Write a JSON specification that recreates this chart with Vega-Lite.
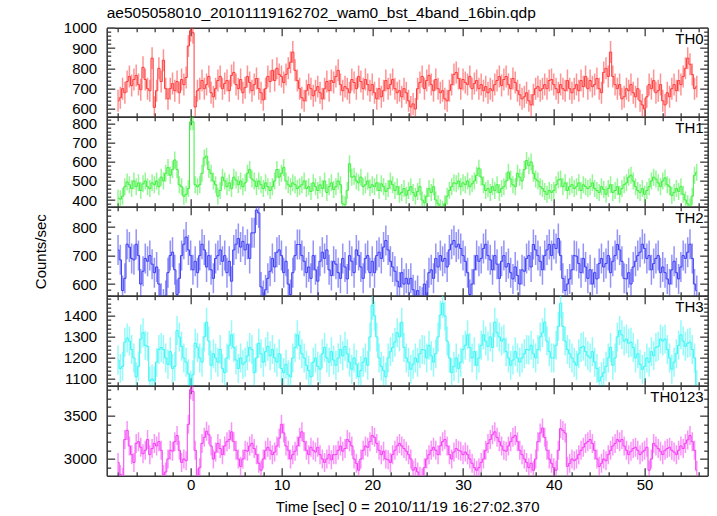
{
"$schema": "https://vega.github.io/schema/vega-lite/v6.json",
"padding": {"left": 32.7, "top": 5.7, "right": 2, "bottom": 2},
"background": "white",
"config": {
  "view": {"stroke": null},
  "font": "Liberation Sans",
  "axis": {"domainColor": "#333333", "domainWidth": 1.5, "tickColor": "#555555", "tickWidth": 1.5, "labelFont": "Liberation Sans", "labelFontSize": 15, "labelColor": "#000000", "titleFont": "Liberation Sans", "titleFontSize": 15, "titleFontWeight": "normal", "titleColor": "#000000", "grid": false, "labelOverlap": false, "labelFlush": false}
},
"data": {"values": [
{"t":-8,"a":640,"b":410,"c":720,"d":1190,"e":2960},
{"t":-7.75,"a":655,"b":405,"c":685,"d":1150,"e":2820},
{"t":-7.5,"a":700,"b":420,"c":577,"d":1160,"e":2790},
{"t":-7.25,"a":680,"b":470,"c":620,"d":1275,"e":3224},
{"t":-7,"a":735,"b":495,"c":740,"d":1295,"e":3330},
{"t":-6.75,"a":760,"b":480,"c":730,"d":1280,"e":3150},
{"t":-6.5,"a":715,"b":460,"c":690,"d":1240,"e":3050},
{"t":-6.25,"a":745,"b":500,"c":685,"d":1200,"e":2960},
{"t":-6,"a":765,"b":470,"c":740,"d":1110,"e":3180},
{"t":-5.75,"a":720,"b":490,"c":700,"d":1160,"e":3200},
{"t":-5.5,"a":695,"b":450,"c":600,"d":1290,"e":3135},
{"t":-5.25,"a":805,"b":485,"c":645,"d":1320,"e":3060},
{"t":-5,"a":745,"b":500,"c":690,"d":1260,"e":3100},
{"t":-4.75,"a":700,"b":470,"c":680,"d":1255,"e":3224},
{"t":-4.5,"a":690,"b":460,"c":700,"d":1090,"e":3050},
{"t":-4.25,"a":850,"b":490,"c":670,"d":1100,"e":3120},
{"t":-4,"a":608,"b":480,"c":640,"d":1090,"e":3180},
{"t":-3.75,"a":690,"b":500,"c":660,"d":1180,"e":3150},
{"t":-3.5,"a":800,"b":470,"c":600,"d":1240,"e":3200},
{"t":-3.25,"a":735,"b":520,"c":550,"d":1250,"e":3100},
{"t":-3,"a":840,"b":500,"c":530,"d":1240,"e":2820},
{"t":-2.75,"a":700,"b":540,"c":560,"d":1200,"e":2850},
{"t":-2.5,"a":650,"b":570,"c":640,"d":1170,"e":3000},
{"t":-2.25,"a":700,"b":530,"c":700,"d":1230,"e":3100},
{"t":-2,"a":725,"b":560,"c":712,"d":1150,"e":3090},
{"t":-1.75,"a":690,"b":610,"c":650,"d":1160,"e":3200},
{"t":-1.5,"a":735,"b":560,"c":563,"d":1330,"e":3270},
{"t":-1.25,"a":680,"b":480,"c":620,"d":1300,"e":3100},
{"t":-1,"a":745,"b":470,"c":700,"d":1255,"e":2960},
{"t":-0.75,"a":720,"b":420,"c":740,"d":1200,"e":3000},
{"t":-0.5,"a":755,"b":430,"c":765,"d":1180,"e":2980},
{"t":-0.25,"a":910,"b":460,"c":720,"d":1125,"e":3400},
{"t":0,"a":985,"b":810,"c":700,"d":1070,"e":3800},
{"t":0.25,"a":975,"b":810,"c":650,"d":1120,"e":3780},
{"t":0.5,"a":610,"b":480,"c":680,"d":1270,"e":3100},
{"t":0.75,"a":690,"b":470,"c":640,"d":1250,"e":2780},
{"t":1,"a":700,"b":480,"c":700,"d":1200,"e":2900},
{"t":1.25,"a":740,"b":540,"c":740,"d":1180,"e":3180},
{"t":1.5,"a":700,"b":620,"c":720,"d":1300,"e":3250},
{"t":1.75,"a":720,"b":630,"c":660,"d":1370,"e":3320},
{"t":2,"a":760,"b":560,"c":700,"d":1280,"e":3280},
{"t":2.25,"a":680,"b":540,"c":650,"d":1165,"e":3150},
{"t":2.5,"a":660,"b":500,"c":620,"d":1220,"e":3000},
{"t":2.75,"a":700,"b":480,"c":690,"d":1200,"e":3080},
{"t":3,"a":740,"b":420,"c":700,"d":1180,"e":3180},
{"t":3.25,"a":760,"b":450,"c":720,"d":1240,"e":3120},
{"t":3.5,"a":700,"b":520,"c":680,"d":1150,"e":3050},
{"t":3.75,"a":725,"b":500,"c":700,"d":1130,"e":3150},
{"t":4,"a":740,"b":470,"c":640,"d":1200,"e":3200},
{"t":4.25,"a":690,"b":490,"c":680,"d":1260,"e":3224},
{"t":4.5,"a":765,"b":460,"c":610,"d":1310,"e":3313},
{"t":4.75,"a":780,"b":520,"c":720,"d":1250,"e":3200},
{"t":5,"a":720,"b":505,"c":740,"d":1190,"e":3100},
{"t":5.25,"a":700,"b":480,"c":760,"d":1150,"e":3000},
{"t":5.5,"a":745,"b":500,"c":730,"d":1200,"e":2915},
{"t":5.75,"a":680,"b":470,"c":750,"d":1170,"e":3000},
{"t":6,"a":705,"b":490,"c":720,"d":1180,"e":3100},
{"t":6.25,"a":760,"b":540,"c":740,"d":1210,"e":3090},
{"t":6.5,"a":730,"b":560,"c":690,"d":1250,"e":3150},
{"t":6.75,"a":690,"b":510,"c":780,"d":1240,"e":3180},
{"t":7,"a":720,"b":500,"c":780,"d":1130,"e":3120},
{"t":7.25,"a":750,"b":470,"c":860,"d":1200,"e":3050},
{"t":7.5,"a":700,"b":500,"c":850,"d":1270,"e":2950},
{"t":7.75,"a":680,"b":480,"c":590,"d":1220,"e":2870},
{"t":8,"a":645,"b":460,"c":560,"d":1180,"e":3000},
{"t":8.25,"a":700,"b":490,"c":580,"d":1230,"e":3100},
{"t":8.5,"a":760,"b":470,"c":620,"d":1255,"e":3135},
{"t":8.75,"a":735,"b":450,"c":645,"d":1210,"e":3100},
{"t":9,"a":790,"b":470,"c":690,"d":1240,"e":3050},
{"t":9.25,"a":740,"b":500,"c":660,"d":1200,"e":3080},
{"t":9.5,"a":800,"b":560,"c":712,"d":1180,"e":3150},
{"t":9.75,"a":770,"b":520,"c":720,"d":1220,"e":3240},
{"t":10,"a":760,"b":540,"c":700,"d":1150,"e":3400},
{"t":10.25,"a":730,"b":570,"c":640,"d":1130,"e":3300},
{"t":10.5,"a":770,"b":500,"c":680,"d":1170,"e":3150},
{"t":10.75,"a":800,"b":480,"c":600,"d":1120,"e":3100},
{"t":11,"a":830,"b":470,"c":563,"d":1110,"e":3000},
{"t":11.25,"a":880,"b":490,"c":640,"d":1200,"e":3050},
{"t":11.5,"a":790,"b":480,"c":700,"d":1250,"e":3090},
{"t":11.75,"a":740,"b":460,"c":739,"d":1310,"e":3150},
{"t":12,"a":700,"b":470,"c":739,"d":1260,"e":3250},
{"t":12.25,"a":655,"b":480,"c":700,"d":1220,"e":3313},
{"t":12.5,"a":640,"b":500,"c":680,"d":1200,"e":3200},
{"t":12.75,"a":690,"b":460,"c":640,"d":1165,"e":3100},
{"t":13,"a":720,"b":470,"c":660,"d":1140,"e":3050},
{"t":13.25,"a":700,"b":445,"c":620,"d":1110,"e":3135},
{"t":13.5,"a":665,"b":490,"c":700,"d":1180,"e":3100},
{"t":13.75,"a":690,"b":470,"c":650,"d":1200,"e":3080},
{"t":14,"a":710,"b":450,"c":610,"d":1160,"e":3135},
{"t":14.25,"a":680,"b":480,"c":680,"d":1146,"e":3050},
{"t":14.5,"a":650,"b":460,"c":712,"d":1220,"e":3000},
{"t":14.75,"a":700,"b":500,"c":690,"d":1250,"e":2960},
{"t":15,"a":735,"b":440,"c":720,"d":1200,"e":3000},
{"t":15.25,"a":690,"b":470,"c":650,"d":1180,"e":3050},
{"t":15.5,"a":740,"b":490,"c":630,"d":1230,"e":2990},
{"t":15.75,"a":730,"b":455,"c":680,"d":1190,"e":3050},
{"t":16,"a":760,"b":470,"c":670,"d":1165,"e":3050},
{"t":16.25,"a":790,"b":500,"c":640,"d":1200,"e":3100},
{"t":16.5,"a":720,"b":480,"c":620,"d":1240,"e":3150},
{"t":16.75,"a":690,"b":380,"c":690,"d":1210,"e":3090},
{"t":17,"a":710,"b":375,"c":660,"d":1255,"e":3120},
{"t":17.25,"a":700,"b":450,"c":618,"d":1220,"e":3224},
{"t":17.5,"a":680,"b":590,"c":700,"d":1180,"e":3200},
{"t":17.75,"a":745,"b":520,"c":680,"d":1146,"e":3150},
{"t":18,"a":730,"b":525,"c":640,"d":1200,"e":3000},
{"t":18.25,"a":700,"b":500,"c":720,"d":1170,"e":2950},
{"t":18.5,"a":760,"b":490,"c":700,"d":1110,"e":2870},
{"t":18.75,"a":735,"b":520,"c":660,"d":1140,"e":3000},
{"t":19,"a":700,"b":470,"c":620,"d":1180,"e":3100},
{"t":19.25,"a":745,"b":480,"c":690,"d":1200,"e":3150},
{"t":19.5,"a":720,"b":500,"c":700,"d":1165,"e":3135},
{"t":19.75,"a":690,"b":465,"c":640,"d":1300,"e":3200},
{"t":20,"a":720,"b":480,"c":680,"d":1450,"e":3270},
{"t":20.25,"a":680,"b":470,"c":640,"d":1400,"e":3250},
{"t":20.5,"a":650,"b":490,"c":700,"d":1300,"e":3180},
{"t":20.75,"a":700,"b":450,"c":712,"d":1200,"e":3100},
{"t":21,"a":660,"b":485,"c":690,"d":1160,"e":3050},
{"t":21.25,"a":690,"b":470,"c":730,"d":1140,"e":3090},
{"t":21.5,"a":740,"b":445,"c":753,"d":1110,"e":3000},
{"t":21.75,"a":700,"b":460,"c":720,"d":1200,"e":2990},
{"t":22,"a":720,"b":500,"c":680,"d":1230,"e":2960},
{"t":22.25,"a":745,"b":480,"c":660,"d":1250,"e":3050},
{"t":22.5,"a":700,"b":450,"c":645,"d":1275,"e":3100},
{"t":22.75,"a":680,"b":470,"c":610,"d":1320,"e":3150},
{"t":23,"a":690,"b":430,"c":590,"d":1300,"e":3180},
{"t":23.25,"a":660,"b":440,"c":640,"d":1370,"e":3150},
{"t":23.5,"a":700,"b":460,"c":600,"d":1250,"e":3120},
{"t":23.75,"a":680,"b":425,"c":620,"d":1200,"e":3090},
{"t":24,"a":640,"b":450,"c":600,"d":1180,"e":3050},
{"t":24.25,"a":610,"b":470,"c":620,"d":1146,"e":3000},
{"t":24.5,"a":625,"b":440,"c":580,"d":1170,"e":2870},
{"t":24.75,"a":600,"b":420,"c":560,"d":1200,"e":2900},
{"t":25,"a":700,"b":445,"c":577,"d":1180,"e":2850},
{"t":25.25,"a":730,"b":470,"c":540,"d":1220,"e":2800},
{"t":25.5,"a":760,"b":400,"c":536,"d":1240,"e":2780},
{"t":25.75,"a":700,"b":385,"c":600,"d":1238,"e":2900},
{"t":26,"a":740,"b":420,"c":560,"d":1200,"e":3000},
{"t":26.25,"a":765,"b":460,"c":640,"d":1260,"e":3050},
{"t":26.5,"a":720,"b":440,"c":650,"d":1210,"e":3100},
{"t":26.75,"a":690,"b":470,"c":620,"d":1180,"e":3135},
{"t":27,"a":745,"b":400,"c":690,"d":1220,"e":3100},
{"t":27.25,"a":700,"b":380,"c":660,"d":1300,"e":3050},
{"t":27.5,"a":680,"b":360,"c":700,"d":1404,"e":3150},
{"t":27.75,"a":690,"b":350,"c":680,"d":1460,"e":3200},
{"t":28,"a":650,"b":380,"c":690,"d":1400,"e":3224},
{"t":28.25,"a":640,"b":420,"c":660,"d":1280,"e":3150},
{"t":28.5,"a":690,"b":450,"c":720,"d":1200,"e":3050},
{"t":28.75,"a":720,"b":470,"c":740,"d":1130,"e":3000},
{"t":29,"a":770,"b":490,"c":753,"d":1160,"e":3080},
{"t":29.25,"a":780,"b":485,"c":730,"d":1200,"e":3120},
{"t":29.5,"a":750,"b":500,"c":740,"d":1150,"e":3100},
{"t":29.75,"a":700,"b":470,"c":725,"d":1180,"e":3090},
{"t":30,"a":745,"b":490,"c":700,"d":1240,"e":3050},
{"t":30.25,"a":730,"b":480,"c":680,"d":1260,"e":3080},
{"t":30.5,"a":720,"b":500,"c":640,"d":1310,"e":3050},
{"t":30.75,"a":760,"b":470,"c":563,"d":1250,"e":3000},
{"t":31,"a":700,"b":485,"c":600,"d":1200,"e":2950},
{"t":31.25,"a":725,"b":500,"c":650,"d":1230,"e":2900},
{"t":31.5,"a":740,"b":530,"c":700,"d":1165,"e":2870},
{"t":31.75,"a":700,"b":567,"c":680,"d":1200,"e":2900},
{"t":32,"a":720,"b":520,"c":690,"d":1260,"e":2960},
{"t":32.25,"a":690,"b":480,"c":725,"d":1310,"e":3000},
{"t":32.5,"a":710,"b":450,"c":740,"d":1280,"e":3100},
{"t":32.75,"a":680,"b":460,"c":700,"d":1255,"e":3180},
{"t":33,"a":700,"b":440,"c":685,"d":1300,"e":3224},
{"t":33.25,"a":690,"b":470,"c":650,"d":1250,"e":3280},
{"t":33.5,"a":720,"b":450,"c":700,"d":1370,"e":3313},
{"t":33.75,"a":740,"b":480,"c":670,"d":1320,"e":3250},
{"t":34,"a":760,"b":440,"c":620,"d":1300,"e":3200},
{"t":34.25,"a":715,"b":460,"c":680,"d":1280,"e":3150},
{"t":34.5,"a":745,"b":470,"c":700,"d":1290,"e":3100},
{"t":34.75,"a":760,"b":500,"c":660,"d":1230,"e":3090},
{"t":35,"a":720,"b":546,"c":672,"d":1200,"e":3150},
{"t":35.25,"a":700,"b":510,"c":640,"d":1165,"e":3200},
{"t":35.5,"a":750,"b":480,"c":618,"d":1190,"e":3250},
{"t":35.75,"a":730,"b":470,"c":660,"d":1230,"e":3270},
{"t":36,"a":690,"b":540,"c":630,"d":1200,"e":3200},
{"t":36.25,"a":670,"b":520,"c":600,"d":1180,"e":3100},
{"t":36.5,"a":650,"b":500,"c":650,"d":1200,"e":3050},
{"t":36.75,"a":660,"b":560,"c":645,"d":1220,"e":3000},
{"t":37,"a":680,"b":607,"c":690,"d":1240,"e":2960},
{"t":37.25,"a":640,"b":580,"c":700,"d":1238,"e":2900},
{"t":37.5,"a":620,"b":600,"c":660,"d":1260,"e":2950},
{"t":37.75,"a":670,"b":540,"c":739,"d":1220,"e":2870},
{"t":38,"a":700,"b":510,"c":720,"d":1200,"e":3000},
{"t":38.25,"a":710,"b":500,"c":700,"d":1240,"e":3200},
{"t":38.5,"a":690,"b":470,"c":680,"d":1300,"e":3300},
{"t":38.75,"a":700,"b":460,"c":650,"d":1320,"e":3357},
{"t":39,"a":720,"b":445,"c":700,"d":1370,"e":3250},
{"t":39.25,"a":700,"b":430,"c":720,"d":1280,"e":3100},
{"t":39.5,"a":740,"b":450,"c":739,"d":1230,"e":3000},
{"t":39.75,"a":745,"b":440,"c":700,"d":1200,"e":2950},
{"t":40,"a":720,"b":450,"c":740,"d":1200,"e":2900},
{"t":40.25,"a":700,"b":480,"c":725,"d":1260,"e":2870},
{"t":40.5,"a":680,"b":505,"c":760,"d":1350,"e":3100},
{"t":40.75,"a":720,"b":510,"c":700,"d":1460,"e":3350},
{"t":41,"a":700,"b":470,"c":620,"d":1350,"e":3330},
{"t":41.25,"a":690,"b":490,"c":577,"d":1280,"e":3300},
{"t":41.5,"a":740,"b":450,"c":600,"d":1240,"e":2915},
{"t":41.75,"a":700,"b":470,"c":618,"d":1220,"e":2950},
{"t":42,"a":680,"b":480,"c":650,"d":1200,"e":3000},
{"t":42.25,"a":700,"b":460,"c":700,"d":1180,"e":2980},
{"t":42.5,"a":720,"b":470,"c":698,"d":1165,"e":3000},
{"t":42.75,"a":690,"b":490,"c":672,"d":1220,"e":3050},
{"t":43,"a":740,"b":450,"c":640,"d":1250,"e":3100},
{"t":43.25,"a":710,"b":480,"c":690,"d":1255,"e":3135},
{"t":43.5,"a":760,"b":470,"c":660,"d":1230,"e":3180},
{"t":43.75,"a":700,"b":460,"c":620,"d":1210,"e":3200},
{"t":44,"a":740,"b":470,"c":650,"d":1200,"e":3224},
{"t":44.25,"a":710,"b":490,"c":600,"d":1230,"e":3180},
{"t":44.5,"a":720,"b":460,"c":640,"d":1180,"e":3100},
{"t":44.75,"a":750,"b":450,"c":618,"d":1150,"e":3000},
{"t":45,"a":700,"b":440,"c":672,"d":1090,"e":2915},
{"t":45.25,"a":680,"b":470,"c":690,"d":1110,"e":2950},
{"t":45.5,"a":780,"b":455,"c":660,"d":1130,"e":3000},
{"t":45.75,"a":800,"b":430,"c":672,"d":1160,"e":2980},
{"t":46,"a":760,"b":460,"c":700,"d":1200,"e":3050},
{"t":46.25,"a":880,"b":480,"c":640,"d":1250,"e":3100},
{"t":46.5,"a":760,"b":440,"c":680,"d":1165,"e":3150},
{"t":46.75,"a":720,"b":450,"c":700,"d":1200,"e":3180},
{"t":47,"a":700,"b":470,"c":739,"d":1300,"e":3224},
{"t":47.25,"a":720,"b":430,"c":720,"d":1330,"e":3200},
{"t":47.5,"a":650,"b":460,"c":680,"d":1310,"e":3224},
{"t":47.75,"a":660,"b":480,"c":620,"d":1280,"e":3150},
{"t":48,"a":700,"b":490,"c":618,"d":1290,"e":3100},
{"t":48.25,"a":690,"b":520,"c":640,"d":1270,"e":3050},
{"t":48.5,"a":720,"b":530,"c":600,"d":1275,"e":3090},
{"t":48.75,"a":680,"b":500,"c":660,"d":1250,"e":3120},
{"t":49,"a":660,"b":470,"c":680,"d":1200,"e":3135},
{"t":49.25,"a":700,"b":450,"c":700,"d":1220,"e":3100},
{"t":49.5,"a":640,"b":440,"c":712,"d":1170,"e":3050},
{"t":49.75,"a":620,"b":460,"c":740,"d":1146,"e":3080},
{"t":50,"a":600,"b":430,"c":725,"d":1160,"e":3100},
{"t":50.25,"a":660,"b":450,"c":690,"d":1200,"e":3135},
{"t":50.5,"a":720,"b":470,"c":700,"d":1180,"e":2870},
{"t":50.75,"a":700,"b":500,"c":650,"d":1230,"e":3000},
{"t":51,"a":740,"b":520,"c":672,"d":1210,"e":3180},
{"t":51.25,"a":680,"b":510,"c":690,"d":1250,"e":3150},
{"t":51.5,"a":690,"b":490,"c":700,"d":1255,"e":3120},
{"t":51.75,"a":720,"b":470,"c":640,"d":1290,"e":3090},
{"t":52,"a":640,"b":500,"c":660,"d":1280,"e":3050},
{"t":52.25,"a":620,"b":516,"c":640,"d":1290,"e":3100},
{"t":52.5,"a":680,"b":480,"c":618,"d":1240,"e":3120},
{"t":52.75,"a":660,"b":470,"c":600,"d":1200,"e":3135},
{"t":53,"a":700,"b":424,"c":650,"d":1146,"e":3100},
{"t":53.25,"a":720,"b":440,"c":680,"d":1180,"e":3080},
{"t":53.5,"a":690,"b":460,"c":640,"d":1220,"e":3050},
{"t":53.75,"a":740,"b":445,"c":618,"d":1260,"e":3100},
{"t":54,"a":720,"b":470,"c":660,"d":1310,"e":3150},
{"t":54.25,"a":760,"b":430,"c":700,"d":1280,"e":3120},
{"t":54.5,"a":800,"b":400,"c":690,"d":1255,"e":3180},
{"t":54.75,"a":850,"b":380,"c":712,"d":1270,"e":3220},
{"t":55,"a":820,"b":363,"c":740,"d":1275,"e":3270},
{"t":55.25,"a":770,"b":420,"c":690,"d":1240,"e":3200},
{"t":55.5,"a":700,"b":530,"c":600,"d":1200,"e":3100},
{"t":55.75,"a":710,"b":546,"c":577,"d":1072,"e":2870}
]},
"spacing": 0,
"bounds": "flush",
"vconcat": [
{
  "width": 601, "height": 89,
  "title": {"text": "ae505058010_20101119162702_wam0_bst_4band_16bin.qdp", "anchor": "start", "frame": "group", "font": "Liberation Sans", "fontSize": 15.5, "fontWeight": "normal", "color": "#000000", "offset": -1},
  "layer": [
    {"mark": {"type": "tick", "orient": "vertical", "size": 22, "thickness": 1.5, "color": "#ff3a3a", "opacity": 0.55, "clip": true},
     "encoding": {
       "x": {"field": "t", "type": "quantitative", "scale": {"domain": [-9.25, 56.95], "nice": false, "zero": false},
             "axis": {"orient": "bottom", "values": [-8,-6,-4,-2,0,2,4,6,8,10,12,14,16,18,20,22,24,26,28,30,32,34,36,38,40,42,44,46,48,50,52,54,56], "tickSize": {"condition": {"test": "datum.value % 10 === 0", "value": -8}, "value": -4}, "labels": false, "title": null}},
       "y": {"field": "a", "type": "quantitative", "scale": {"domain": [562, 1000], "nice": false, "zero": false},
             "axis": {"orient": "left", "values": [580,600,620,640,660,680,700,720,740,760,780,800,820,840,860,880,900,920,940,960,980,1000], "tickSize": {"condition": {"test": "datum.value % 100 === 0", "value": -8}, "value": -4}, "format": "d", "labelExpr": "datum.value % 100 === 0 ? datum.label : ''", "labelPadding": 18, "title": null}}
     }},
    {"mark": {"type": "line", "interpolate": "step", "color": "#ff3a3a", "strokeWidth": 1, "clip": true},
     "encoding": {
       "x": {"field": "t", "type": "quantitative", "axis": {"orient": "top", "values": [-8,-6,-4,-2,0,2,4,6,8,10,12,14,16,18,20,22,24,26,28,30,32,34,36,38,40,42,44,46,48,50,52,54,56], "tickSize": {"condition": {"test": "datum.value % 10 === 0", "value": -8}, "value": -4}, "labels": false, "title": null}},
       "y": {"field": "a", "type": "quantitative", "axis": {"orient": "right", "values": [580,600,620,640,660,680,700,720,740,760,780,800,820,840,860,880,900,920,940,960,980,1000], "tickSize": {"condition": {"test": "datum.value % 100 === 0", "value": -8}, "value": -4}, "labels": false, "title": null}}
     }},
    {"data": {"values": [{"label": "TH0"}]},
     "mark": {"type": "text", "align": "right", "baseline": "top", "dx": -4, "dy": 4, "fontSize": 15, "font": "Liberation Sans", "color": "#000000"},
     "encoding": {"x": {"datum": 56.95, "type": "quantitative", "axis": null}, "y": {"datum": 1000, "type": "quantitative", "axis": null}, "text": {"field": "label"}}}
  ],
  "resolve": {"axis": {"x": "independent", "y": "independent"}}
},
{
  "width": 601, "height": 90,
  "layer": [
    {"mark": {"type": "tick", "orient": "vertical", "size": 17, "thickness": 1.5, "color": "#3cf03c", "opacity": 0.55, "clip": true},
     "encoding": {
       "x": {"field": "t", "type": "quantitative", "scale": {"domain": [-9.25, 56.95], "nice": false, "zero": false},
             "axis": {"orient": "bottom", "values": [-8,-6,-4,-2,0,2,4,6,8,10,12,14,16,18,20,22,24,26,28,30,32,34,36,38,40,42,44,46,48,50,52,54,56], "tickSize": {"condition": {"test": "datum.value % 10 === 0", "value": -8}, "value": -4}, "labels": false, "title": null}},
       "y": {"field": "b", "type": "quantitative", "scale": {"domain": [365, 837], "nice": false, "zero": false},
             "axis": {"orient": "left", "values": [380,400,420,440,460,480,500,520,540,560,580,600,620,640,660,680,700,720,740,760,780,800,820], "tickSize": {"condition": {"test": "datum.value % 100 === 0", "value": -8}, "value": -4}, "format": "d", "labelExpr": "datum.value % 100 === 0 ? datum.label : ''", "labelPadding": 18, "title": null}}
     }},
    {"mark": {"type": "line", "interpolate": "step", "color": "#3cf03c", "strokeWidth": 1, "clip": true},
     "encoding": {
       "x": {"field": "t", "type": "quantitative", "axis": {"orient": "top", "values": [-8,-6,-4,-2,0,2,4,6,8,10,12,14,16,18,20,22,24,26,28,30,32,34,36,38,40,42,44,46,48,50,52,54,56], "tickSize": {"condition": {"test": "datum.value % 10 === 0", "value": -8}, "value": -4}, "labels": false, "title": null}},
       "y": {"field": "b", "type": "quantitative", "axis": {"orient": "right", "values": [380,400,420,440,460,480,500,520,540,560,580,600,620,640,660,680,700,720,740,760,780,800,820], "tickSize": {"condition": {"test": "datum.value % 100 === 0", "value": -8}, "value": -4}, "labels": false, "title": null}}
     }},
    {"data": {"values": [{"label": "TH1"}]},
     "mark": {"type": "text", "align": "right", "baseline": "top", "dx": -4, "dy": 4, "fontSize": 15, "font": "Liberation Sans", "color": "#000000"},
     "encoding": {"x": {"datum": 56.95, "type": "quantitative", "axis": null}, "y": {"datum": 837, "type": "quantitative", "axis": null}, "text": {"field": "label"}}}
  ],
  "resolve": {"axis": {"x": "independent", "y": "independent"}}
},
{
  "width": 601, "height": 89,
  "layer": [
    {"mark": {"type": "tick", "orient": "vertical", "size": 30, "thickness": 1.5, "color": "#3c3cf5", "opacity": 0.55, "clip": true},
     "encoding": {
       "x": {"field": "t", "type": "quantitative", "scale": {"domain": [-9.25, 56.95], "nice": false, "zero": false},
             "axis": {"orient": "bottom", "values": [-8,-6,-4,-2,0,2,4,6,8,10,12,14,16,18,20,22,24,26,28,30,32,34,36,38,40,42,44,46,48,50,52,54,56], "tickSize": {"condition": {"test": "datum.value % 10 === 0", "value": -8}, "value": -4}, "labels": false, "title": null}},
       "y": {"field": "c", "type": "quantitative", "scale": {"domain": [559, 872], "nice": false, "zero": false},
             "axis": {"orient": "left", "values": [560,580,600,620,640,660,680,700,720,740,760,780,800,820,840,860], "tickSize": {"condition": {"test": "datum.value % 100 === 0", "value": -8}, "value": -4}, "format": "d", "labelExpr": "datum.value % 100 === 0 ? datum.label : ''", "labelPadding": 18, "title": "Counts/sec", "titlePadding": 23}}
     }},
    {"mark": {"type": "line", "interpolate": "step", "color": "#3c3cf5", "strokeWidth": 1, "clip": true},
     "encoding": {
       "x": {"field": "t", "type": "quantitative", "axis": {"orient": "top", "values": [-8,-6,-4,-2,0,2,4,6,8,10,12,14,16,18,20,22,24,26,28,30,32,34,36,38,40,42,44,46,48,50,52,54,56], "tickSize": {"condition": {"test": "datum.value % 10 === 0", "value": -8}, "value": -4}, "labels": false, "title": null}},
       "y": {"field": "c", "type": "quantitative", "axis": {"orient": "right", "values": [560,580,600,620,640,660,680,700,720,740,760,780,800,820,840,860], "tickSize": {"condition": {"test": "datum.value % 100 === 0", "value": -8}, "value": -4}, "labels": false, "title": null}}
     }},
    {"data": {"values": [{"label": "TH2"}]},
     "mark": {"type": "text", "align": "right", "baseline": "top", "dx": -4, "dy": 4, "fontSize": 15, "font": "Liberation Sans", "color": "#000000"},
     "encoding": {"x": {"datum": 56.95, "type": "quantitative", "axis": null}, "y": {"datum": 872, "type": "quantitative", "axis": null}, "text": {"field": "label"}}}
  ],
  "resolve": {"axis": {"x": "independent", "y": "independent"}}
},
{
  "width": 601, "height": 90,
  "layer": [
    {"mark": {"type": "tick", "orient": "vertical", "size": 29, "thickness": 1.5, "color": "#3cf5f5", "opacity": 0.55, "clip": true},
     "encoding": {
       "x": {"field": "t", "type": "quantitative", "scale": {"domain": [-9.25, 56.95], "nice": false, "zero": false},
             "axis": {"orient": "bottom", "values": [-8,-6,-4,-2,0,2,4,6,8,10,12,14,16,18,20,22,24,26,28,30,32,34,36,38,40,42,44,46,48,50,52,54,56], "tickSize": {"condition": {"test": "datum.value % 10 === 0", "value": -8}, "value": -4}, "labels": false, "title": null}},
       "y": {"field": "d", "type": "quantitative", "scale": {"domain": [1068, 1496], "nice": false, "zero": false},
             "axis": {"orient": "left", "values": [1080,1100,1120,1140,1160,1180,1200,1220,1240,1260,1280,1300,1320,1340,1360,1380,1400,1420,1440,1460,1480], "tickSize": {"condition": {"test": "datum.value % 100 === 0", "value": -8}, "value": -4}, "format": "d", "labelExpr": "datum.value % 100 === 0 ? datum.label : ''", "labelPadding": 18, "title": null}}
     }},
    {"mark": {"type": "line", "interpolate": "step", "color": "#3cf5f5", "strokeWidth": 1, "clip": true},
     "encoding": {
       "x": {"field": "t", "type": "quantitative", "axis": {"orient": "top", "values": [-8,-6,-4,-2,0,2,4,6,8,10,12,14,16,18,20,22,24,26,28,30,32,34,36,38,40,42,44,46,48,50,52,54,56], "tickSize": {"condition": {"test": "datum.value % 10 === 0", "value": -8}, "value": -4}, "labels": false, "title": null}},
       "y": {"field": "d", "type": "quantitative", "axis": {"orient": "right", "values": [1080,1100,1120,1140,1160,1180,1200,1220,1240,1260,1280,1300,1320,1340,1360,1380,1400,1420,1440,1460,1480], "tickSize": {"condition": {"test": "datum.value % 100 === 0", "value": -8}, "value": -4}, "labels": false, "title": null}}
     }},
    {"data": {"values": [{"label": "TH3"}]},
     "mark": {"type": "text", "align": "right", "baseline": "top", "dx": -4, "dy": 4, "fontSize": 15, "font": "Liberation Sans", "color": "#000000"},
     "encoding": {"x": {"datum": 56.95, "type": "quantitative", "axis": null}, "y": {"datum": 1496, "type": "quantitative", "axis": null}, "text": {"field": "label"}}}
  ],
  "resolve": {"axis": {"x": "independent", "y": "independent"}}
},
{
  "width": 601, "height": 90,
  "layer": [
    {"mark": {"type": "tick", "orient": "vertical", "size": 19, "thickness": 1.5, "color": "#f53cf5", "opacity": 0.55, "clip": true},
     "encoding": {
       "x": {"field": "t", "type": "quantitative", "scale": {"domain": [-9.25, 56.95], "nice": false, "zero": false},
             "axis": {"orient": "bottom", "values": [-8,-6,-4,-2,0,2,4,6,8,10,12,14,16,18,20,22,24,26,28,30,32,34,36,38,40,42,44,46,48,50,52,54,56], "tickSize": {"condition": {"test": "datum.value % 10 === 0", "value": -8}, "value": -4}, "format": "d", "labelExpr": "datum.value % 10 === 0 ? datum.label : ''", "labelPadding": 10, "title": "Time [sec] 0 = 2010/11/19 16:27:02.370", "titlePadding": 3}},
       "y": {"field": "e", "type": "quantitative", "scale": {"domain": [2807, 3846], "nice": false, "zero": false},
             "axis": {"orient": "left", "values": [2900,3000,3100,3200,3300,3400,3500,3600,3700,3800], "tickSize": {"condition": {"test": "datum.value % 500 === 0", "value": -8}, "value": -4}, "format": "d", "labelExpr": "datum.value % 500 === 0 ? datum.label : ''", "labelPadding": 18, "title": null}}
     }},
    {"mark": {"type": "line", "interpolate": "step", "color": "#f53cf5", "strokeWidth": 1, "clip": true},
     "encoding": {
       "x": {"field": "t", "type": "quantitative", "axis": {"orient": "top", "values": [-8,-6,-4,-2,0,2,4,6,8,10,12,14,16,18,20,22,24,26,28,30,32,34,36,38,40,42,44,46,48,50,52,54,56], "tickSize": {"condition": {"test": "datum.value % 10 === 0", "value": -8}, "value": -4}, "labels": false, "title": null}},
       "y": {"field": "e", "type": "quantitative", "axis": {"orient": "right", "values": [2900,3000,3100,3200,3300,3400,3500,3600,3700,3800], "tickSize": {"condition": {"test": "datum.value % 500 === 0", "value": -8}, "value": -4}, "labels": false, "title": null}}
     }},
    {"data": {"values": [{"label": "TH0123"}]},
     "mark": {"type": "text", "align": "right", "baseline": "top", "dx": -4, "dy": 4, "fontSize": 15, "font": "Liberation Sans", "color": "#000000"},
     "encoding": {"x": {"datum": 56.95, "type": "quantitative", "axis": null}, "y": {"datum": 3846, "type": "quantitative", "axis": null}, "text": {"field": "label"}}}
  ],
  "resolve": {"axis": {"x": "independent", "y": "independent"}}
}
]
}
